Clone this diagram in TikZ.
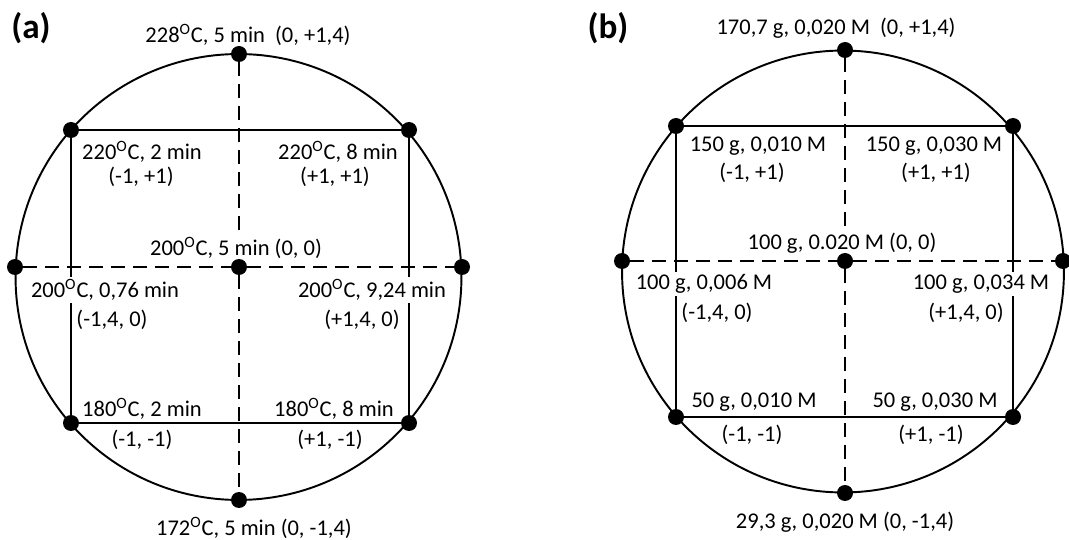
\documentclass[tikz,border=0pt]{standalone}
\usepackage{fontspec}
\setmainfont{Carlito}
\usetikzlibrary{positioning,backgrounds}
\newcommand{\oC}{\textsuperscript{O}C}

\begin{document}
\begin{tikzpicture}[x=0.02cm,y=-0.02cm,
 dot/.style={circle,fill,inner sep=0pt,minimum size=0.32cm},
 lbl/.style={fill=white,inner sep=1.5pt,font=\fontsize{12.8}{15}\selectfont},
 panel/.style={inner sep=0pt,font=\fontsize{20}{24}\selectfont\bfseries},
 axis/.style={dash pattern=on 0.28cm off 0.16cm},
 every on background layer/.style={line width=1.1pt}]
\useasboundingbox (0,0) rectangle (1069,540);

% (a) temperature and time
\node[panel] (pa) at (31,28) {(a)};
\node[lbl] (at) at (248,35) {228\oC, 5 min\ \ (0, +1,4)};
\node[lbl] (atl) at (142,152) {220\oC, 2 min}; \node[lbl] (atl2) at (141,177) {(-1, +1)};
\node[lbl] (atr) at (338,152) {220\oC, 8 min}; \node[lbl] (atr2) at (335,177) {(+1, +1)};
\node[lbl] (ac) at (236,248) {200\oC, 5 min (0, 0)};
\node[lbl] (al) at (105,290) {200\oC, 0,76 min}; \node[lbl] (al2) at (112,320) {(-1,4, 0)};
\node[lbl] (ar) at (372,290) {200\oC, 9,24 min}; \node[lbl] (ar2) at (362,320) {(+1,4, 0)};
\node[lbl] (abl) at (142,409) {180\oC, 2 min}; \node[lbl] (abl2) at (142,440) {(-1, -1)};
\node[lbl] (abr) at (334,409) {180\oC, 8 min}; \node[lbl] (abr2) at (330,440) {(+1, -1)};
\node[lbl] (ab) at (254,528) {172\oC, 5 min (0, -1,4)};
\node[dot] (aT) at (239,54) {}; \node[dot] (aB) at (239,500) {}; \node[dot] (aL) at (15,267) {}; \node[dot] (aR) at (462,267) {}; \node[dot] (aC) at (239,267) {};
\node[dot] (aTL) at (71,130) {}; \node[dot] (aTR) at (409,130) {}; \node[dot] (aBL) at (71,423) {}; \node[dot] (aBR) at (409,423) {};
\begin{scope}[on background layer]
\draw (238.5,277) circle[radius=4.46cm];
\draw (aTL) -- (aTR) -- (aBR) -- (aBL) -- (aTL);
\draw[axis] (aT) -- (aC) -- (aB) (aL) -- (aC) -- (aR);
\end{scope}

% (b) mass and concentration
\node[panel] (pb) at (608,28) {(b)};
\node[lbl] (bt) at (836,28) {170,7 g, 0,020 M\ \ (0, +1,4)};
\node[lbl] (btl) at (758,146) {150 g, 0,010 M}; \node[lbl] (btl2) at (752,173) {(-1, +1)};
\node[lbl] (btr) at (934,146) {150 g, 0,030 M}; \node[lbl] (btr2) at (936,173) {(+1, +1)};
\node[lbl] (bc) at (842,243) {100 g, 0.020 M (0, 0)};
\node[lbl] (bl) at (704,284) {100 g, 0,006 M}; \node[lbl] (bl2) at (717,313) {(-1,4, 0)};
\node[lbl] (br) at (981,284) {100 g, 0,034 M}; \node[lbl] (br2) at (966,313) {(+1,4, 0)};
\node[lbl] (bbl) at (754,402) {50 g, 0,010 M}; \node[lbl] (bbl2) at (752,435) {(-1, -1)};
\node[lbl] (bbr) at (935,402) {50 g, 0,030 M}; \node[lbl] (bbr2) at (931,435) {(+1, -1)};
\node[lbl] (bb) at (845,522) {29,3 g, 0,020 M (0, -1,4)};
\node[dot] (bT) at (845,50) {}; \node[dot] (bB) at (845,493) {}; \node[dot] (bL) at (622,261) {}; \node[dot] (bR) at (1063,261) {}; \node[dot] (bC) at (845,261) {};
\node[dot] (bTL) at (676,126) {}; \node[dot] (bTR) at (1013,126) {}; \node[dot] (bBL) at (676,417) {}; \node[dot] (bBR) at (1013,417) {};
\begin{scope}[on background layer]
\draw (843,271.5) circle[radius=4.42cm];
\draw (bTL) -- (bTR) -- (bBR) -- (bBL) -- (bTL);
\draw[axis] (bT) -- (bC) -- (bB) (bL) -- (bC) -- (bR);
\end{scope}
\end{tikzpicture}
\end{document}
